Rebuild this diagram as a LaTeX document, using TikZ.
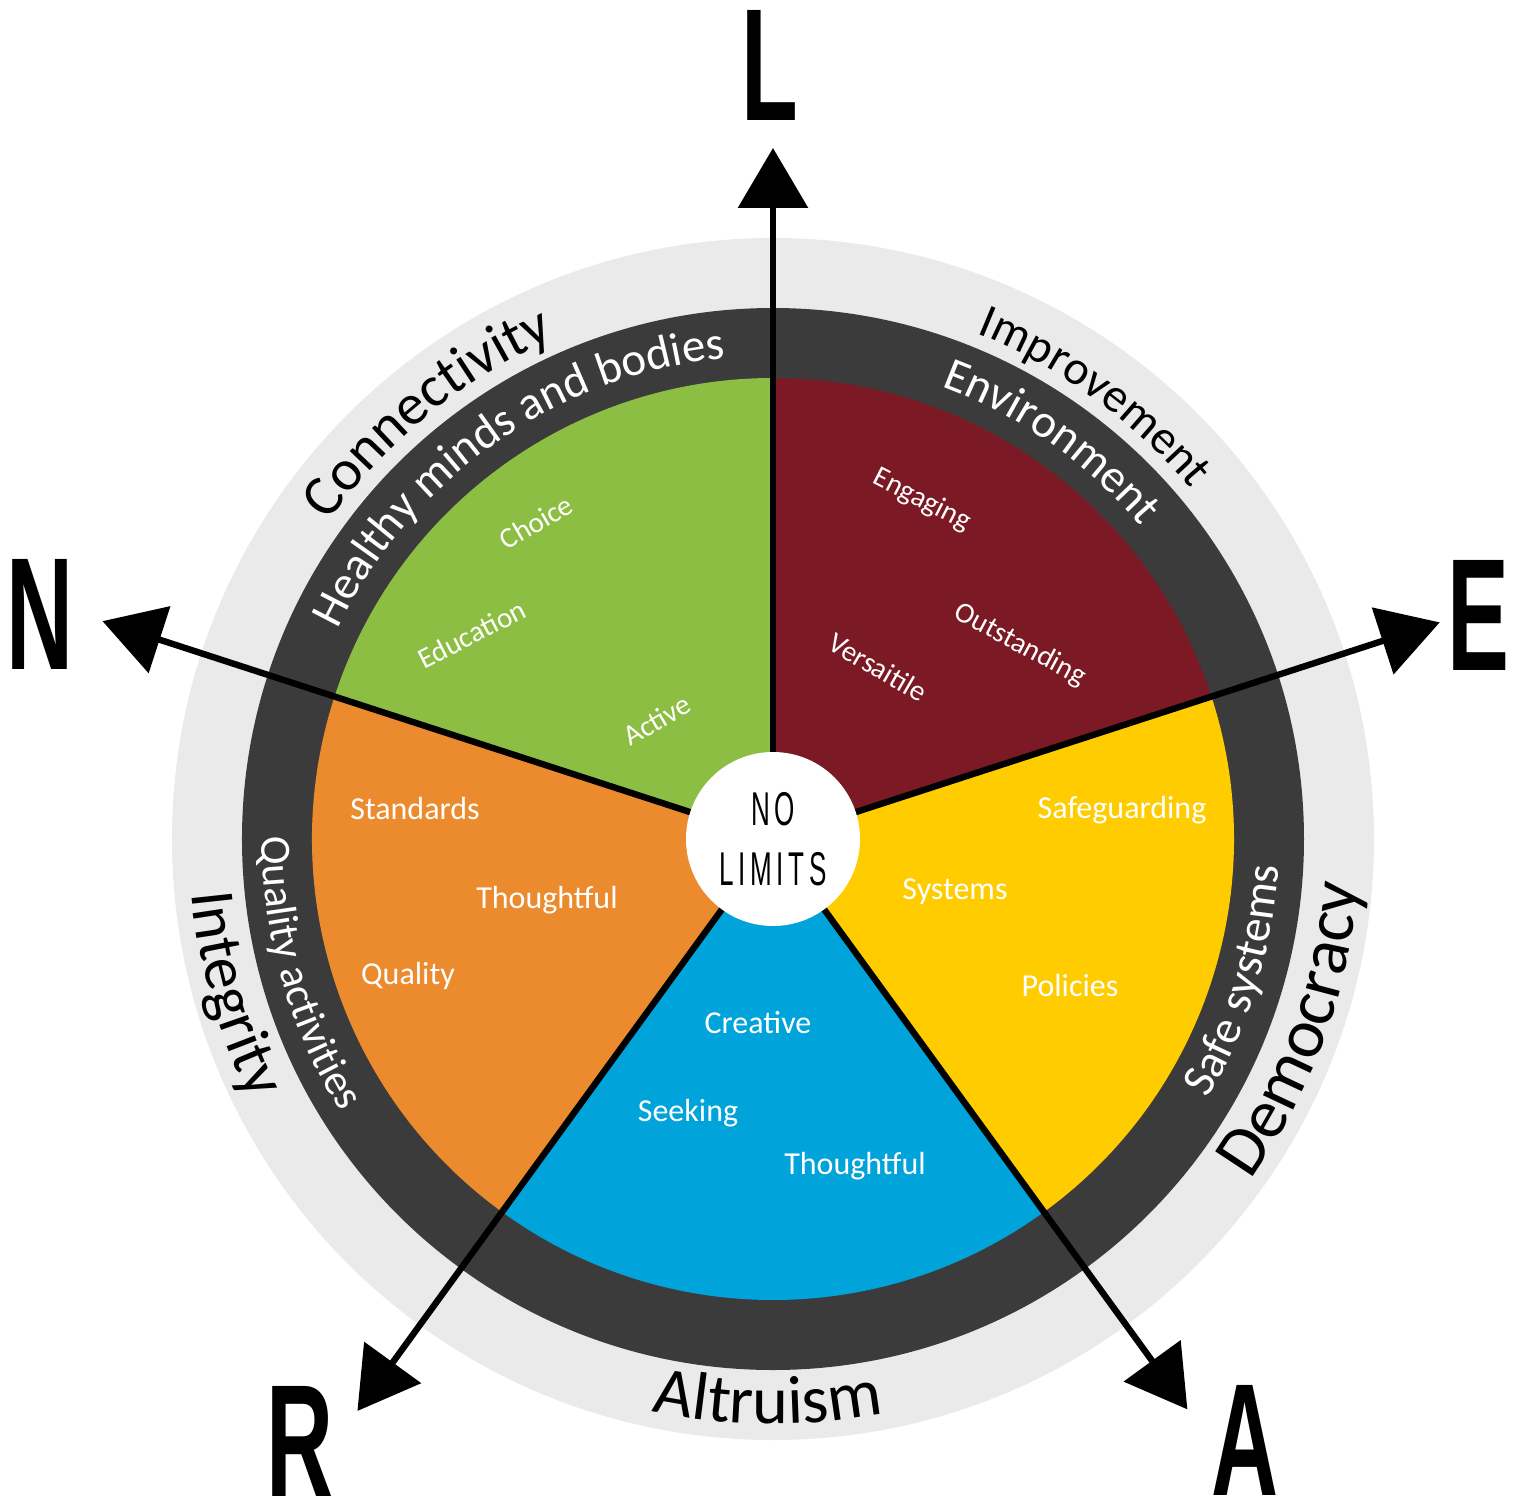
\documentclass[tikz,border=0pt]{standalone}
\usepackage{fontspec}
\setmainfont{Carlito}
\newfontfamily\capfont{Liberation Sans}[FakeStretch=0.58]
\newfontfamily\hubfont{Liberation Sans}[FakeStretch=0.55,LetterSpace=10]
\usetikzlibrary{arrows.meta,decorations.text}
\definecolor{ringlight}{HTML}{EAEAEA}
\definecolor{ringdark}{HTML}{3B3B3B}
\definecolor{wedgeE}{HTML}{7B1A24}
\definecolor{wedgeL}{HTML}{8DBE44}
\definecolor{wedgeN}{HTML}{EC8B2E}
\definecolor{wedgeR}{HTML}{00A3DA}
\definecolor{wedgeA}{HTML}{FFCC00}

\begin{document}
\begin{tikzpicture}[x=0.5pt,y=0.5pt,
  spoke/.style={line width=3.2pt,-{Triangle[length=30pt,width=34.5pt]}},
  hub/.style={circle,fill=white,minimum size=87pt,inner sep=0pt,align=center,
    font=\hubfont\fontsize{23.7}{30}\selectfont},
  compass/.style={inner sep=0pt,font=\capfont\bfseries\fontsize{80}{80}\selectfont},
  tag/.style={text=white,inner sep=0pt,anchor=base,font=\fontsize{16}{16}\selectfont},
  slanttag/.style={text=white,inner sep=0pt,font=\fontsize{14.5}{14.5}\selectfont},
  ringword/.style={decorate,decoration={text along path,text align=center,text={#1}}}]
  \useasboundingbox (-773,-662) rectangle (743,839);
  \coordinate (O) at (0,0);
  \fill[ringlight] (O) circle[radius=601];
  \fill[ringdark] (O) circle[radius=531];
  \fill[wedgeL] (O) -- (90:461) arc[start angle=90,end angle=162,radius=461] -- cycle;
  \fill[wedgeN] (O) -- (162:461) arc[start angle=162,end angle=234,radius=461] -- cycle;
  \fill[wedgeR] (O) -- (234:461) arc[start angle=234,end angle=306,radius=461] -- cycle;
  \fill[wedgeA] (O) -- (306:461) arc[start angle=306,end angle=378,radius=461] -- cycle;
  \fill[wedgeE] (O) -- (18:461) arc[start angle=18,end angle=90,radius=461] -- cycle;
  \coordinate (tipL) at (90:691);
  \coordinate (tipN) at (162:705);
  \coordinate (tipR) at (234:707);
  \coordinate (tipA) at (306:705);
  \coordinate (tipE) at (18:701);
  \draw[spoke] (O) -- (tipL);
  \draw[spoke] (O) -- (tipN);
  \draw[spoke] (O) -- (tipR);
  \draw[spoke] (O) -- (tipA);
  \draw[spoke] (O) -- (tipE);
  \node[hub] (hub) at (O) {NO\\LIMITS};
  \node[compass] (L) at (-3,774) {L};
  \node[compass] (N) at (-733,225) {N};
  \node[compass] (E) at (705,224) {E};
  \node[compass] (R) at (-473,-602) {R};
  \node[compass] (A) at (472,-601) {A};
  \path[ringword={|\fontsize{29}{29}\selectfont|Connectivity}]
    (169:546) arc[start angle=169,end angle=89,radius=546];
  \path[ringword={|\fontsize{24}{24}\selectfont|Improvement}]
    (94:545) arc[start angle=94,end angle=14,radius=545];
  \path[ringword={|\color{white}\fontsize{23.5}{23.5}\selectfont|Healthy minds and bodies}]
    (170:483) arc[start angle=170,end angle=80,radius=483];
  \path[ringword={|\color{white}\fontsize{23.5}{23.5}\selectfont|Environment}]
    (95:483) arc[start angle=95,end angle=15,radius=483];
  \path[ringword={|\color{white}\fontsize{23.5}{23.5}\selectfont|Safe systems}]
    (-57:506) arc[start angle=-57,end angle=23,radius=506];
  \path[ringword={|\color{white}\fontsize{21.5}{21.5}\selectfont|Quality activities}]
    (150:511) arc[start angle=150,end angle=242,radius=511];
  \path[ringword={|\fontsize{35}{35}\selectfont|Democracy}]
    (-60:587) arc[start angle=-60,end angle=20,radius=587];
  \path[ringword={|\fontsize{34}{34}\selectfont|Altruism}]
    (-130:585) arc[start angle=-130,end angle=-51,radius=585];
  \path[ringword={|\fontsize{31.5}{31.5}\selectfont|Integrity}]
    (156:584) arc[start angle=156,end angle=236,radius=584];
  \node[slanttag,rotate=30] (choice) at (-237,317) {Choice};
  \node[slanttag,rotate=27] (education) at (-301,205) {Education};
  \node[slanttag,rotate=30] (active) at (-116,119) {Active};
  \node[slanttag,rotate=-27] (engaging) at (149,339) {Engaging};
  \node[slanttag,rotate=-28] (outstanding) at (247,194) {Outstanding};
  \node[slanttag,rotate=-30] (versaitile) at (105,172) {Versaitile};
  \node[tag] (standards) at (-358,20) {Standards};
  \node[tag] (thoughtfulN) at (-226,-69) {Thoughtful};
  \node[tag] (quality) at (-365,-145) {Quality};
  \node[tag] (safeguarding) at (349,21) {Safeguarding};
  \node[tag] (systems) at (182,-60) {Systems};
  \node[tag] (policies) at (297,-157) {Policies};
  \node[tag] (creative) at (-15,-194) {Creative};
  \node[tag] (seeking) at (-85,-282) {Seeking};
  \node[tag] (thoughtfulR) at (82,-335) {Thoughtful};
\end{tikzpicture}
\end{document}
